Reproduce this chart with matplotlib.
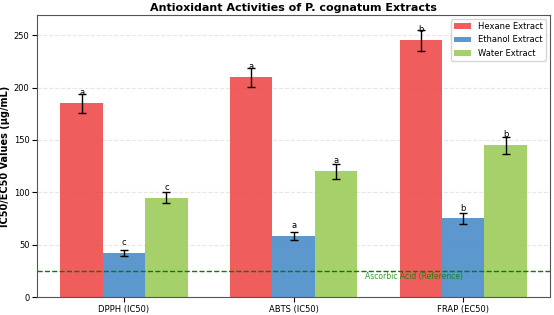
import numpy as np
import matplotlib.pyplot as plt

# Data
assays = ['DPPH (IC50)', 'ABTS (IC50)', 'FRAP (EC50)']
extracts = ['Hexane Extract', 'Ethanol Extract', 'Water Extract']
hexane = [185, 210, 245]
ethanol = [42, 58, 75]
water = [95, 120, 145]
hexane_err = [9, 9, 10]
ethanol_err = [3, 4, 5]
water_err = [5, 7, 8]
letters = [['a', 'a', 'b'], ['c', 'a', 'b'], ['c', 'a', 'b']]
ascorbic_ref = 25

colors = ['#EE4B4B', '#4A8CC8', '#9CCB5A']

fig, ax = plt.subplots(figsize=(5.54, 3.15), dpi=100)
x = np.arange(len(assays))
w = 0.25

series = [hexane, ethanol, water]
errs = [hexane_err, ethanol_err, water_err]
for i, (vals, err, name) in enumerate(zip(series, errs, extracts)):
    pos = x + (i - 1) * w
    ax.bar(pos, vals, w, yerr=err, capsize=3, color=colors[i], alpha=0.9,
           label=name, error_kw=dict(elinewidth=1, ecolor='black', capthick=1))
    # significance letters sit a fixed distance above the bar
    for p, v, lt in zip(pos, vals, letters[i]):
        ax.text(p, v + 10, lt, ha='center', va='center', fontsize=6)

ax.axhline(ascorbic_ref, color='green', linestyle='--', linewidth=1)
ax.text(2.0, ascorbic_ref - 1, 'Ascorbic Acid (Reference)', color='green',
        fontsize=5.5, ha='right', va='top', alpha=0.8)

ax.set_xticks(x)
ax.set_xticklabels(assays, fontsize=6)
ax.tick_params(axis='y', labelsize=6, pad=2)
ax.tick_params(axis='x', pad=2)
ax.set_ylim(0, 269.5)
ax.set_ylabel('IC50/EC50 Values (µg/mL)', fontsize=7, fontweight='bold',
              labelpad=3)
ax.set_title('Antioxidant Activities of P. cognatum Extracts', fontsize=8,
             fontweight='bold', pad=3)
ax.yaxis.grid(True, linestyle='--', alpha=0.3)
ax.set_axisbelow(True)
for s in ax.spines.values():
    s.set_color('#555555')
ax.legend(loc='upper right', fontsize=6)

plt.subplots_adjust(left=0.067, right=0.993, bottom=0.057, top=0.953)
plt.savefig('out.png', dpi=100)
